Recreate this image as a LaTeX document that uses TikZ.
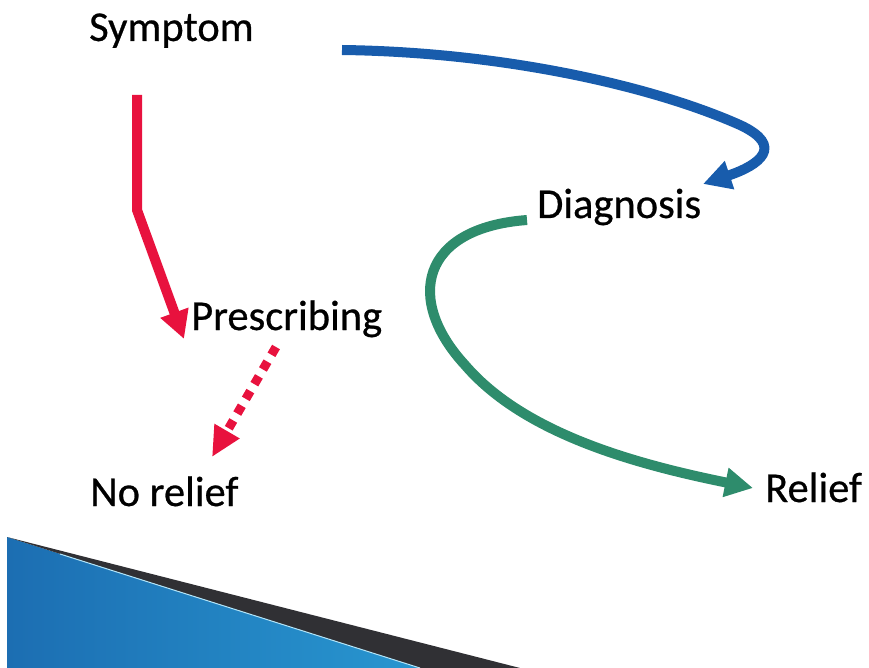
\documentclass[tikz,border=0pt]{standalone}
\usepackage{fontspec}
\setmainfont{Carlito}[FakeBold=0.6]
\usetikzlibrary{arrows.meta}
\definecolor{cred}{RGB}{232,18,62}
\definecolor{cblue}{RGB}{24,92,172}
\definecolor{cgreen}{RGB}{46,140,108}
\definecolor{bandblue}{RGB}{28,110,178}
\definecolor{bandcyan}{RGB}{40,150,208}
\definecolor{banddark}{RGB}{48,48,52}
\begin{document}
\begin{tikzpicture}[x=1pt,y=-1pt,
  lbl/.style={anchor=base west,inner sep=0pt,font=\fontsize{42.5}{50}\selectfont},
  conn/.style={line width=10pt,-{Triangle[length=28pt,width=28pt]}},
  dotconn/.style={line width=9pt,dash pattern=on 9pt off 8pt,-{Triangle[length=30pt,width=27pt]}}]
\useasboundingbox (0,0) rectangle (869,668);
% bottom decorative band
\shade[left color=bandblue,right color=bandcyan] (7,537) -- (420,668) -- (7,668) -- cycle;
\fill[banddark] (7,537) -- (520,668) -- (420,668) -- cycle;
\draw[white!70!cyan,line width=1pt] (60,554) -- (420,668);
% labels
\node[lbl] (sym) at (89,41) {Symptom};
\node[lbl] (dia) at (537,218) {Diagnosis};
\node[lbl] (pre) at (191,330) {Prescribing};
\node[lbl] (nor) at (90,506) {No relief};
\node[lbl] (rel) at (765,502) {Relief};
% connector end points
\coordinate (r1) at (137,95);
\coordinate (r2) at (137,210);
\coordinate (r3) at (184,339);
\coordinate (d1) at (276,347);
\coordinate (d2) at (212,457);
\coordinate (b1) at (342,50);
\coordinate (b2) at (740,125);
\coordinate (b3) at (703,184);
\coordinate (g1) at (527,220);
\coordinate (g2) at (465,365);
\coordinate (g3) at (753,488);
% connectors
\draw[cred,conn] (r1) -- (r2) -- (r3);
\draw[cred,dotconn] (d1) -- (d2);
\draw[cblue,conn] (b1) .. controls (500,52) and (650,85) .. (b2) .. controls (785,146) and (760,165) .. (b3);
\draw[cgreen,conn] (g1) .. controls (420,228) and (405,300) .. (g2) .. controls (525,435) and (640,465) .. (g3);
\end{tikzpicture}
\end{document}
